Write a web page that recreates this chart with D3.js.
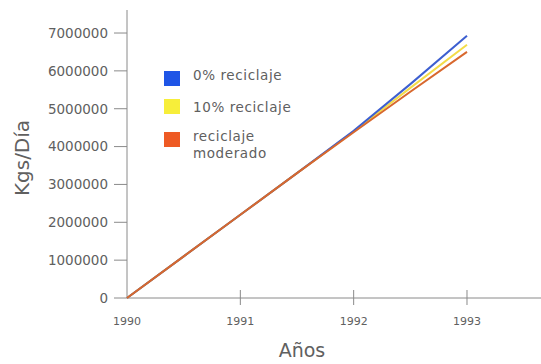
<!DOCTYPE html>
<html><head><meta charset="utf-8">
<script src="https://cdn.jsdelivr.net/npm/d3@7"></script>
<style>body{margin:0;background:#fff}svg{display:block}</style>
</head><body><svg id="c" width="541" height="364"></svg>
<script>
const years = [1990, 1990.5, 1991, 1991.5, 1992, 1992.5, 1993];
const seriesNames = ["0% reciclaje", "10% reciclaje", "reciclaje moderado"];
const blueVals   = [0, 1100000, 2200000, 3300000, 4420000, 5650000, 6930000];
const yellowVals = [0, 1100000, 2200000, 3300000, 4400000, 5550000, 6690000];
const orangeVals = [0, 1100000, 2200000, 3300000, 4380000, 5450000, 6500000];
const yTicks = [0,1000000,2000000,3000000,4000000,5000000,6000000,7000000];
const xTicks = [1990,1991,1992,1993];
const colors = ["#1f55e6", "#f7ee3a", "#ee5a24"];
const lineColors = ["#3d5fd0", "#f3dc48", "#d8682e"];

const svg = d3.select("#c");
const font = "'DejaVu Sans', sans-serif";
const txt = "#606060";
const x = d3.scaleLinear().domain([1990, 1993.653]).range([127, 541]);
const y = d3.scaleLinear().domain([0, 7608000]).range([298, 10]);

// axes
svg.append("line").attr("x1",127).attr("x2",127).attr("y1",y(7608000)).attr("y2",y(0)).attr("stroke","#8a8a8a").attr("stroke-width",1);
svg.append("line").attr("x1",127).attr("x2",541).attr("y1",y(0)).attr("y2",y(0)).attr("stroke","#8a8a8a").attr("stroke-width",1);

const yt = svg.append("g");
yTicks.forEach(v=>{
  yt.append("line").attr("x1",114).attr("x2",127).attr("y1",y(v)).attr("y2",y(v)).attr("stroke","#8a8a8a");
  yt.append("text").attr("x",108).attr("y",y(v)).attr("dy","0.36em").attr("text-anchor","end")
    .attr("font-family",font).attr("font-size",13.5).attr("fill",txt).text(v);
});
const xt = svg.append("g");
xTicks.forEach(v=>{
  if (v!==1990) xt.append("line").attr("x1",x(v)).attr("x2",x(v)).attr("y1",290).attr("y2",305).attr("stroke","#8a8a8a");
  xt.append("text").attr("x",x(v)).attr("y",325).attr("text-anchor","middle")
    .attr("font-family",font).attr("font-size",11).attr("fill",txt).text(v);
});

// titles
svg.append("text").attr("transform","translate(29,158) rotate(-90)").attr("text-anchor","middle")
  .attr("font-family",font).attr("font-size",20).attr("fill",txt).text("Kgs/Día");
svg.append("text").attr("x",302).attr("y",357).attr("text-anchor","middle")
  .attr("font-family",font).attr("font-size",19).attr("fill",txt).text("Años");

// lines
const data = [blueVals, yellowVals, orangeVals];
const line = d3.line().x((d,i)=>x(years[i])).y(d=>y(d));
[1,0,2].forEach(k=>{
  svg.append("path").datum(data[k]).attr("d",line).attr("fill","none")
    .attr("stroke",lineColors[k]).attr("stroke-width",2);
});

// legend
const lg = svg.append("g");
const sqY = [71, 99, 132];
seriesNames.forEach((n,i)=>{
  lg.append("rect").attr("x",164).attr("y",sqY[i]).attr("width",16).attr("height",15).attr("fill",colors[i]);
});
const lt = [["0% reciclaje",80],["10% reciclaje",112],["reciclaje",141],["moderado",158]];
lt.forEach(([t,yy])=>{
  lg.append("text").attr("x",193).attr("y",yy).attr("font-family",font).attr("font-size",13.5)
    .attr("letter-spacing",0.6).attr("fill",txt).text(t);
});
</script></body></html>
